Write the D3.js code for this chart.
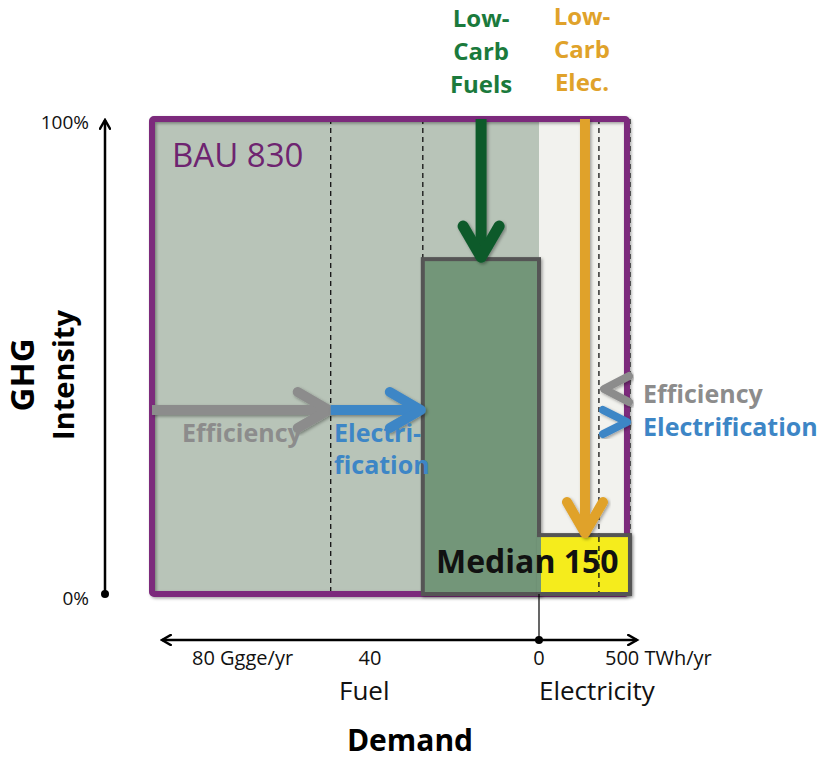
<!DOCTYPE html>
<html><head><meta charset="utf-8">
<script src="https://cdn.jsdelivr.net/npm/d3@7"></script>
<style>body{margin:0;background:#fff}svg{display:block}text{font-family:"Open Sans",Lato,sans-serif}</style>
</head><body><svg id="c" width="820" height="761"></svg>
<script>
// ---- data ----
const fuelTicks = [80, 40, 0];              // Ggge/yr
const elecTicks = [0, 500];                 // TWh/yr
const yTicks = [0, 100];                    // % GHG intensity
const bau = {fuel: 91.6, elec: 530, label: "BAU 830"};
const efficiencyLevels = {fuel: 49.3, elec: 361};   // dashed lines after efficiency
const electrificationLevels = {fuel: 27.5, elec: 548};
const median = {fuel: 27.5, elec: 548, fuelIntensity: 70.5, elecIntensity: 12.4, label: "Median 150"};
const arrowIntensity = 40;
const lowCarbFuelX = 13.7, lowCarbElecX = 277;

const svg = d3.select("#c");
const x0 = 539;
const xF = d3.scaleLinear().domain([0, 80]).range([x0, 201]);
const xE = d3.scaleLinear().domain([0, 500]).range([x0, 622]);
const y = d3.scaleLinear().domain([0, 100]).range([594, 119]);

const defs = svg.append("defs");
const f = defs.append("filter").attr("id","sh").attr("x","-20%").attr("y","-20%").attr("width","140%").attr("height","140%");
f.append("feDropShadow").attr("dx",1.5).attr("dy",1.5).attr("stdDeviation",1.5).attr("flood-color","#000").attr("flood-opacity",0.35);

// backgrounds
svg.append("rect").attr("x", xF(bau.fuel)).attr("y", y(100)).attr("width", x0 - xF(bau.fuel)).attr("height", y(0)-y(100)).attr("fill", "#b8c4b8");
svg.append("rect").attr("x", x0).attr("y", y(100)).attr("width", xE(bau.elec) - x0).attr("height", y(0)-y(100)).attr("fill", "#f2f2ee");

// dashed lines
[xF(efficiencyLevels.fuel), xF(electrificationLevels.fuel), xE(efficiencyLevels.elec), xE(electrificationLevels.elec)].forEach(xx => {
  svg.append("line").attr("x1", xx).attr("x2", xx).attr("y1", y(100)).attr("y2", y(0))
    .attr("stroke", "#111").attr("stroke-width", 1.3).attr("stroke-dasharray", "5,4");
});

// BAU border
svg.append("rect").attr("x", xF(bau.fuel)).attr("y", y(100)).attr("width", xE(bau.elec) - xF(bau.fuel)).attr("height", y(0)-y(100))
  .attr("fill", "none").attr("stroke", "#7b2a7c").attr("stroke-width", 6).attr("rx", 2).attr("filter","url(#sh)");
svg.append("text").attr("x", xF(bau.fuel) + 20).attr("y", 167).attr("fill", "#6e2470").attr("font-size", 33).text(bau.label);

// median boxes
svg.append("rect").attr("x", xF(median.fuel)).attr("y", y(median.fuelIntensity)).attr("width", x0 - xF(median.fuel)).attr("height", y(0) - y(median.fuelIntensity))
  .attr("fill", "#739679").attr("stroke", "#555").attr("stroke-width", 4).attr("filter","url(#sh)");
svg.append("rect").attr("x", x0).attr("y", y(median.elecIntensity)).attr("width", xE(median.elec) - x0).attr("height", y(0) - y(median.elecIntensity))
  .attr("fill", "#f5ec1c").attr("stroke", "#555").attr("stroke-width", 4).attr("filter","url(#sh)");
svg.append("rect").attr("x", x0 - 2).attr("y", y(median.elecIntensity) + 2).attr("width", 4).attr("height", y(0) - y(median.elecIntensity) - 4).attr("fill", "#739679");
svg.append("line").attr("x1", xE(efficiencyLevels.elec)).attr("x2", xE(efficiencyLevels.elec)).attr("y1", y(median.elecIntensity)+2).attr("y2", y(0)-2)
  .attr("stroke", "#111").attr("stroke-width", 1.3).attr("stroke-dasharray", "5,4");
svg.append("text").attr("x", 436).attr("y", 573).attr("font-size", 32).attr("font-weight", "bold").attr("fill", "#111").text(median.label);

// arrows helper
function hArrow(x1, x2, yy, color, w) {
  const g = svg.append("g").attr("filter","url(#sh)").attr("stroke", color).attr("stroke-width", w).attr("fill","none");
  g.append("line").attr("x1", x1).attr("x2", x2 - 3).attr("y1", yy).attr("y2", yy).attr("stroke-linecap","butt");
  g.append("path").attr("d", `M${x2-33},${yy-18}L${x2-2},${yy}L${x2-33},${yy+18}`).attr("stroke-linecap","round").attr("stroke-linejoin","round");
}
function vArrow(xx, y1, y2, color, w) {
  const g = svg.append("g").attr("filter","url(#sh)").attr("stroke", color).attr("stroke-width", w).attr("fill","none");
  g.append("line").attr("x1", xx).attr("x2", xx).attr("y1", y1).attr("y2", y2 - 3);
  g.append("path").attr("d", `M${xx-18},${y2-33}L${xx},${y2-2}L${xx+18},${y2-33}`).attr("stroke-linecap","round").attr("stroke-linejoin","round");
}
const ay = y(arrowIntensity) + 6;
hArrow(xF(bau.fuel), xF(efficiencyLevels.fuel), ay, "#8c8c8c", 10);
hArrow(xF(efficiencyLevels.fuel), xF(electrificationLevels.fuel), ay, "#3d86c6", 10);
vArrow(xF(lowCarbFuelX), y(100), y(median.fuelIntensity), "#0c5a2c", 11);
vArrow(xE(lowCarbElecX), y(100), y(median.elecIntensity), "#e0a22a", 10);

// right small chevrons
svg.append("path").attr("d", `M629,376L604,389L629,402`).attr("stroke","#8c8c8c").attr("stroke-width",8).attr("fill","none")
  .attr("stroke-linecap","round").attr("stroke-linejoin","round").attr("filter","url(#sh)");
svg.append("path").attr("d", `M603,410L627,422L603,434`).attr("stroke","#3d86c6").attr("stroke-width",8).attr("fill","none")
  .attr("stroke-linecap","round").attr("stroke-linejoin","round").attr("filter","url(#sh)");

// arrow labels
svg.append("text").attr("x", 182).attr("y", 442).attr("fill", "#8c8c8c").attr("font-size", 25).attr("font-weight","bold").text("Efficiency");
svg.append("text").attr("x", 334).attr("y", 442).attr("fill", "#3d86c6").attr("font-size", 25).attr("font-weight","bold").text("Electri-");
svg.append("text").attr("x", 334).attr("y", 474).attr("fill", "#3d86c6").attr("font-size", 25).attr("font-weight","bold").text("fication");
svg.append("text").attr("x", 643).attr("y", 403).attr("fill", "#8c8c8c").attr("font-size", 25).attr("font-weight","bold").text("Efficiency");
svg.append("text").attr("x", 643).attr("y", 436).attr("fill", "#3d86c6").attr("font-size", 25).attr("font-weight","bold").text("Electrification");

// top labels
["Low-", "Carb", "Fuels"].forEach((t, i) => svg.append("text").attr("x", xF(lowCarbFuelX)).attr("y", 27 + i*33).attr("text-anchor","middle")
  .attr("fill", "#1b7a3c").attr("font-size", 24).attr("font-weight","bold").text(t));
["Low-", "Carb", "Elec."].forEach((t, i) => svg.append("text").attr("x", 582).attr("y", 25 + i*33).attr("text-anchor","middle")
  .attr("fill", "#e0a22a").attr("font-size", 24).attr("font-weight","bold").text(t));

// y axis
defs.append("marker").attr("id","ah").attr("viewBox","0 0 10 10").attr("refX",8).attr("refY",5).attr("markerWidth",5).attr("markerHeight",5).attr("orient","auto-start-reverse")
  .append("path").attr("d","M1,1L8,5L1,9").attr("fill","none").attr("stroke","#000").attr("stroke-width",2).attr("stroke-linecap","round");
svg.append("line").attr("x1",105).attr("x2",105).attr("y1",y(0)).attr("y2",y(100)+1).attr("stroke","#000").attr("stroke-width",2.5).attr("marker-end","url(#ah)");
svg.append("circle").attr("cx",105).attr("cy",y(0)).attr("r",4).attr("fill","#000");
svg.selectAll(".yt").data(yTicks).enter().append("text").attr("x", 89).attr("y", d => y(d) + (d === 100 ? 10 : 11)).attr("text-anchor","end")
  .attr("font-size", 19).attr("fill","#111").text(d => d + "%");
const yl = svg.append("g").attr("transform","translate(34,375) rotate(-90)");
yl.append("text").attr("text-anchor","middle").attr("y",0).attr("font-size",33).attr("font-weight","bold").attr("fill","#000").text("GHG");
yl.append("text").attr("text-anchor","middle").attr("y",40).attr("font-size",29).attr("font-weight","bold").attr("fill","#000").text("Intensity");

// x axis
const ax = 640;
svg.append("line").attr("x1", 162).attr("x2", 637).attr("y1", ax).attr("y2", ax).attr("stroke","#000").attr("stroke-width",2.5)
  .attr("marker-start","url(#ah)").attr("marker-end","url(#ah)");
svg.append("line").attr("x1", x0).attr("x2", x0).attr("y1", y(0)).attr("y2", ax).attr("stroke","#000").attr("stroke-width",1.2);
svg.append("circle").attr("cx", x0).attr("cy", ax).attr("r", 4).attr("fill","#000");
svg.selectAll(".ft").data(fuelTicks).enter().append("text").attr("x", d => xF(d)).attr("y", 665).attr("text-anchor", d => d === 80 ? "start" : "middle")
  .attr("dx", d => d === 80 ? -9 : 0).attr("font-size", 20).attr("fill","#111").text(d => d === 80 ? "80 Ggge/yr" : d);
svg.selectAll(".et").data(elecTicks.filter(d => d > 0)).enter().append("text").attr("x", d => xE(d)).attr("y", 665).attr("text-anchor","start")
  .attr("dx", -17).attr("font-size", 20).attr("fill","#111").text(d => d + " TWh/yr");
svg.append("text").attr("x", 339).attr("y", 700).attr("font-size", 26).attr("fill","#111").text("Fuel");
svg.append("text").attr("x", 539).attr("y", 700).attr("font-size", 26).attr("fill","#111").text("Electricity");
svg.append("text").attr("x", 410).attr("y", 751).attr("text-anchor","middle").attr("font-size", 30).attr("font-weight","bold").attr("fill","#000").text("Demand");
</script></body></html>
